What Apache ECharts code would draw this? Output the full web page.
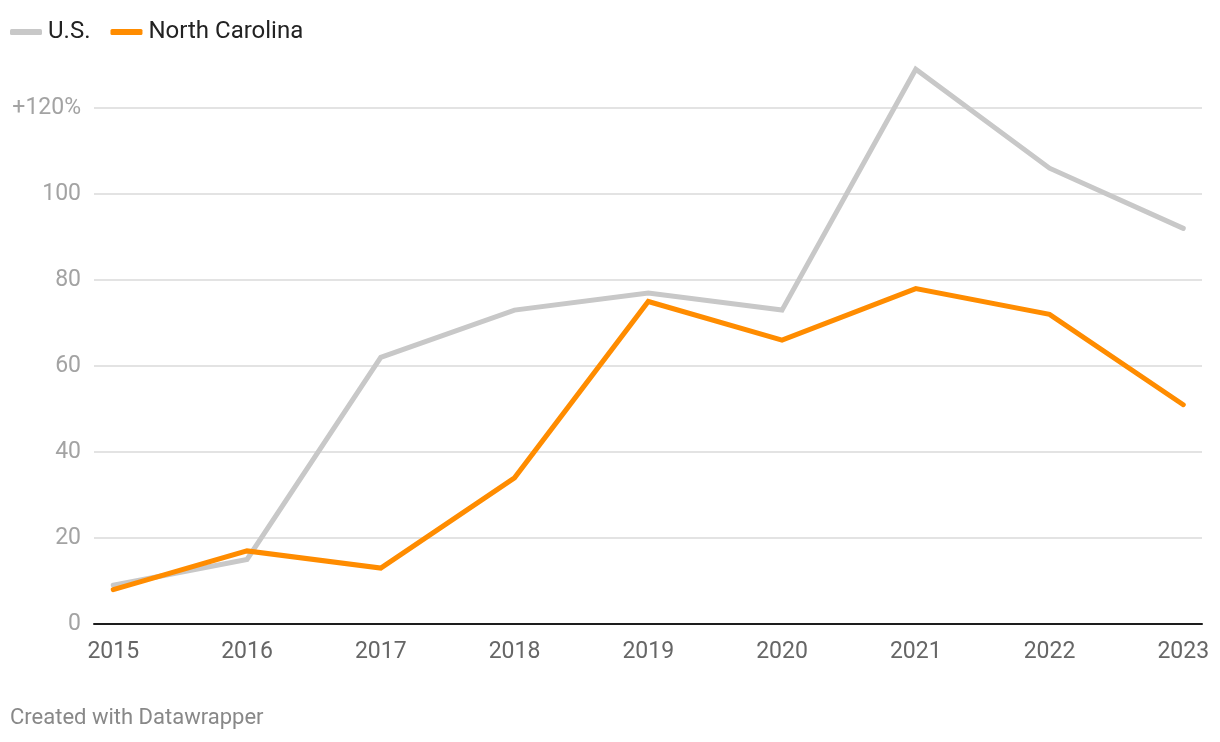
<!DOCTYPE html>
<html>
<head>
<meta charset="utf-8">
<script src="https://cdn.jsdelivr.net/npm/echarts@6/dist/echarts.min.js"></script>
<style>
html,body{margin:0;padding:0;background:#fff;}
#chart{width:1220px;height:742px;}
</style>
</head>
<body>
<div id="chart"></div>
<script>
const years = [2015, 2016, 2017, 2018, 2019, 2020, 2021, 2022, 2023];
const usValues = [9, 15, 62, 73, 77, 73, 129, 106, 92];
const ncValues = [8, 17, 13, 34, 75, 66, 78, 72, 51];
const yTicks = [0, 20, 40, 60, 80, 100, 120];

const chart = echarts.init(document.getElementById('chart'));
const font = 'Roboto, "Noto Sans", sans-serif';
chart.setOption({
  animation: false,
  backgroundColor: '#fff',
  legend: {
    left: 10, top: 20, padding: 0,
    itemWidth: 32, itemHeight: 6, itemGap: 20,
    icon: 'roundRect',
    textStyle: { fontFamily: font, fontSize: 24, color: '#222', padding: [0, 0, 0, 1] },
    data: ['U.S.', 'North Carolina']
  },
  grid: { left: 94, right: 18, top: 65, bottom: 118, containLabel: false },
  xAxis: {
    type: 'value', min: 2014.856, max: 2023.14,
    axisLine: { show: true, onZero: true, lineStyle: { color: '#1d1d1d', width: 2 } },
    axisTick: { show: false, customValues: years },
    splitLine: { show: false },
    axisLabel: { customValues: years, margin: 17, color: '#666', fontSize: 23, fontFamily: font, formatter: v => String(Math.round(v)) }
  },
  yAxis: {
    type: 'value', min: 0, max: 130,
    axisLine: { show: false },
    axisTick: { show: false, customValues: yTicks },
    axisLabel: { customValues: yTicks, margin: 13, color: '#a3a3a3', fontSize: 23, fontFamily: font, formatter: v => v === 120 ? '+120%' : String(v) },
    splitLine: { show: true, lineStyle: { color: '#e3e3e3', width: 2 } }
  },
  series: [
    {
      name: 'U.S.', type: 'line', symbol: 'none', z: 2,
      data: years.map((y, i) => [y, usValues[i]]),
      color: '#c8c8c8',
      lineStyle: { color: '#c8c8c8', width: 5, cap: 'round', join: 'miter' }
    },
    {
      name: 'North Carolina', type: 'line', symbol: 'none', z: 3,
      data: years.map((y, i) => [y, ncValues[i]]),
      color: '#ff8c00',
      lineStyle: { color: '#ff8c00', width: 5, cap: 'round', join: 'miter' }
    }
  ],
  graphic: [{
    type: 'text', left: 10, top: 707,
    style: { text: 'Created with Datawrapper', fill: '#888', fontSize: 22, fontFamily: font }
  }]
});
</script>
</body>
</html>
